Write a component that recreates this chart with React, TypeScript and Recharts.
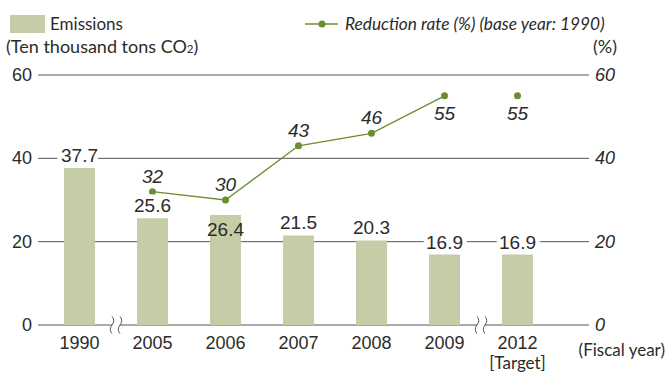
import {
  ComposedChart, Bar, Line, XAxis, YAxis, CartesianGrid,
  LabelList, ReferenceDot, Customized,
} from 'recharts'

const years = ['1990', '2005', '2006', '2007', '2008', '2009', '2012']
const yearNotes = ['', '', '', '', '', '', '[Target]']
const emissions = [37.7, 25.6, 26.4, 21.5, 20.3, 16.9, 16.9]
const reductionRate = [null, 32, 30, 43, 46, 55, 55]
const axisTicks = [0, 20, 40, 60]
const breakAfter = ['1990', '2009']

// layout
const W = 666, H = 372
const TOP = 75, LEFT_W = 38, RIGHT_W = 77, XAXIS_H = 47
const PAD_L = 5, PAD_R = 35
const BAND = (W - LEFT_W - RIGHT_W - PAD_L - PAD_R) / years.length

const NUM = "'Liberation Sans', Arial, sans-serif"
const TXT = "Lato, 'Open Sans', sans-serif"
const INK = '#2b2b2b'
const BAR = '#c5cda6'
const GREEN = '#6b8e2e'
const GRID = '#555'

const insideLabel = 2          // 2006 value sits inside its bar
const belowLabel = [5, 6]      // rates printed under the dot

const data = years.map((y, i) => ({
  year: y,
  emissions: emissions[i],
  rate: i < years.length - 1 ? reductionRate[i] : null,
  target: i === years.length - 1 ? reductionRate[i] : null,
}))

function vb(p: any) { return p.viewBox ?? p }

function BarValue(p: any) {
  const { x, y, width } = vb(p)
  const inside = p.index === insideLabel
  return (
    <text x={x + width / 2} y={inside ? y + 14 : y - 13} dy={7} textAnchor="middle"
      fontSize={19} fontFamily={NUM} fill={INK}
      stroke={inside ? 'none' : '#fff'} strokeWidth={9} strokeLinejoin="round" paintOrder="stroke">
      {p.value}
    </text>
  )
}

function RateValue(p: any) {
  if (p.value == null) return null
  const { x, y } = vb(p)
  const below = belowLabel.includes(p.index)
  return (
    <text x={x} y={below ? y + 17 : y - 16} dy={7} textAnchor="middle"
      fontSize={19} fontStyle="italic" fontFamily={NUM} fill={INK}>
      {p.value}
    </text>
  )
}

function YearTick(p: any) {
  const i = years.indexOf(p.payload.value)
  return (
    <g fontFamily={NUM} fill={INK}>
      <text x={p.x} y={p.y} dy={24} textAnchor="middle" fontSize={18} fill={INK}>{p.payload.value}</text>
      {yearNotes[i] && (
        <text x={p.x} y={p.y} dy={44} textAnchor="middle" fontSize={17} fontFamily={TXT} fill={INK}>{yearNotes[i]}</text>
      )}
    </g>
  )
}

function LeftTick(p: any) {
  return <text x={p.x} y={p.y} dy={6} textAnchor="end" fontSize={18} fontFamily={NUM} fill={INK}>{p.payload.value}</text>
}
function RightTick(p: any) {
  return <text x={p.x} y={p.y} dy={6} textAnchor="start" fontSize={18} fontStyle="italic" fontFamily={NUM} fill={INK}>{p.payload.value}</text>
}

function BreakMark(p: any) {
  const cx = p.cx + BAND / 2, cy = p.cy
  const wave = (x: number) => `M${x},${cy - 8.5} Q${x + 3.5},${cy - 4.5} ${x},${cy} Q${x - 3.5},${cy + 4.5} ${x},${cy + 8.5}`
  return (
    <g>
      <rect x={cx - 4} y={cy - 2} width={8} height={4} fill="#fff" />
      <path d={wave(cx - 4)} fill="none" stroke={GRID} strokeWidth={1} />
      <path d={wave(cx + 4)} fill="none" stroke={GRID} strokeWidth={1} />
    </g>
  )
}

function Overlay() {
  return (
    <g fontFamily={TXT} fill={INK} fontSize={17}>
      <rect x={10} y={15} width={35} height={18} fill={BAR} />
      <text x={50} y={30}>Emissions</text>
      <line x1={305} x2={338} y1={24} y2={24} stroke={GREEN} strokeWidth={1.3} />
      <circle cx={322} cy={24} r={3.5} fill={GREEN} />
      <text x={345} y={30} fontStyle="italic" fontSize={17.3}>Reduction rate (%) (base year: 1990)</text>
      <text x={6} y={53} fontSize={18}>(Ten thousand tons CO<tspan fontSize={11.5}>2</tspan>)</text>
      <text x={617} y={53} textAnchor="end" fontSize={18}>(%)</text>
      <text x={665} y={356} textAnchor="end">(Fiscal year)</text>
    </g>
  )
}

export default function App() {
  return (
    <div style={{ width: W, height: H }}>
      <style>{'body{margin:0}'}</style>
      <ComposedChart width={W} height={H} data={data} margin={{ top: TOP, right: 0, bottom: 0, left: 0 }}>
        <CartesianGrid yAxisId="left" vertical={false} stroke={GRID} strokeWidth={1} />
        <XAxis dataKey="year" height={XAXIS_H} axisLine={false} tickLine={false} tickSize={0} tickMargin={0}
          padding={{ left: PAD_L, right: PAD_R }} tick={<YearTick />} interval={0} />
        <YAxis yAxisId="left" width={LEFT_W} domain={[0, 60]} ticks={axisTicks} axisLine={false}
          tickLine={false} tickSize={0} tickMargin={6} tick={<LeftTick />} />
        <YAxis yAxisId="right" orientation="right" width={RIGHT_W} domain={[0, 60]} ticks={axisTicks}
          axisLine={false} tickLine={false} tickSize={0} tickMargin={6} tick={<RightTick />} />
        <Bar yAxisId="left" dataKey="emissions" fill={BAR} barSize={31} isAnimationActive={false}>
          <LabelList dataKey="emissions" content={<BarValue />} />
        </Bar>
        {breakAfter.map(y => (
          <ReferenceDot key={y} yAxisId="left" x={y} y={0} r={0} shape={(p: any) => <BreakMark {...p} />} />
        ))}
        <Line yAxisId="right" dataKey="rate" stroke={GREEN} strokeWidth={1.3} connectNulls={false}
          dot={{ r: 3.5, fill: GREEN, stroke: GREEN, strokeWidth: 0 }} activeDot={false} isAnimationActive={false}>
          <LabelList dataKey="rate" content={<RateValue />} />
        </Line>
        <Line yAxisId="right" dataKey="target" stroke={GREEN} strokeWidth={1.3}
          dot={{ r: 3.5, fill: GREEN, stroke: GREEN, strokeWidth: 0 }} activeDot={false} isAnimationActive={false}>
          <LabelList dataKey="target" content={<RateValue />} />
        </Line>
        <Customized component={<Overlay />} />
      </ComposedChart>
    </div>
  )
}
